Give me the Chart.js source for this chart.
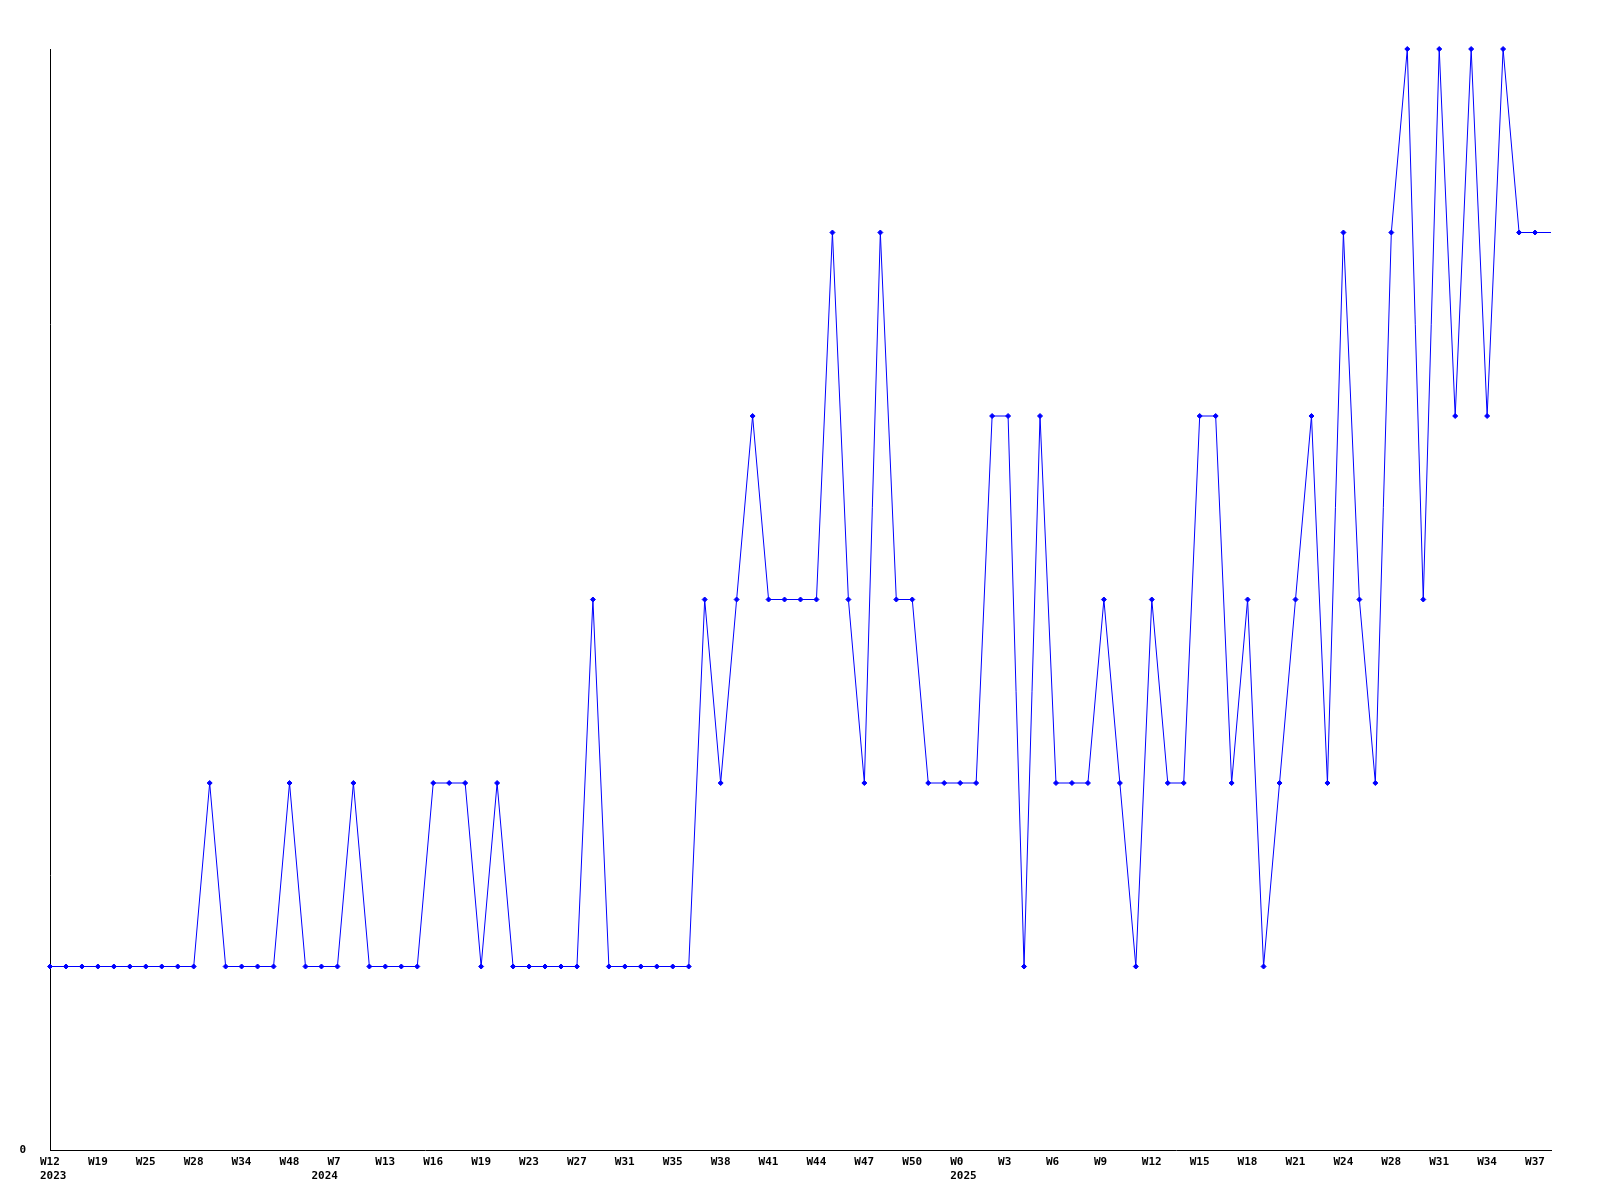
<!DOCTYPE html>
<html>
<head>
<meta charset="utf-8">
<style>
  html, body { margin: 0; padding: 0; background: #ffffff; }
  #wrap { width: 1600px; height: 1200px; }
</style>
<script src="https://cdn.jsdelivr.net/npm/chart.js@4.4.1/dist/chart.umd.min.js"></script>
</head>
<body>
<div id="wrap"><canvas id="c" width="1600" height="1200"></canvas></div>
<script>
// Categories (weeks with data)
const weeks = [
  'W12','W14','W16','W19','W21','W23','W25','W26','W27','W28',
  'W30','W32','W34','W39','W44','W48','W51','W3','W7','W9',
  'W11','W13','W14','W15','W16','W17','W18','W19','W20','W22',
  'W23','W24','W26','W27','W28','W30','W31','W32','W34','W35',
  'W36','W37','W38','W39','W40','W41','W42','W43','W44','W45',
  'W46','W47','W48','W49','W50','W51','W52','W0','W1','W2',
  'W3','W4','W5','W6','W7','W8','W9','W10','W11','W12',
  'W13','W14','W15','W16','W17','W18','W19','W20','W21','W22',
  'W23','W24','W25','W27','W28','W29','W30','W31','W32','W33',
  'W34','W35','W36','W37','W38'
];
// Year shown under the first week of each year
const yearIndex = [0, 17, 57];
const yearText = ['2023', '2024', '2025'];

// Series values
const counts = [
  1,1,1,1,1,1,1,1,1,1,
  2,1,1,1,1,2,1,1,1,2,
  1,1,1,1,2,2,2,1,2,1,
  1,1,1,1,3,1,1,1,1,1,
  1,3,2,3,4,3,3,3,3,5,
  3,2,5,3,3,2,2,2,2,4,
  4,1,4,2,2,2,3,2,1,3,
  2,2,4,4,2,3,1,2,3,4,
  2,5,3,2,5,6,3,6,4,6,
  4,6,5,5,5
];

// Y tick labels
const yTickLabels = { 0: '0' };

const FONT = { family: "'DejaVu Sans Mono', monospace", size: 11, weight: 'bold', lineHeight: 14 / 11 };

new Chart(document.getElementById('c'), {
  type: 'line',
  data: {
    labels: weeks,
    datasets: [{
      data: counts,
      borderColor: '#0000ff',
      backgroundColor: '#0000ff',
      borderWidth: 1,
      tension: 0,
      fill: false,
      pointStyle: 'rectRot',
      pointRadius: counts.map((v, i) => i === counts.length - 1 ? 0 : 2.5),
      pointBorderWidth: 1,
      pointBackgroundColor: '#0000ff',
      pointBorderColor: '#0000ff',
      clip: false
    }]
  },
  options: {
    responsive: false,
    animation: false,
    events: [],
    layout: { padding: { top: 49, right: 49, left: 0, bottom: 0 } },
    plugins: { legend: { display: false }, tooltip: { enabled: false }, title: { display: false } },
    scales: {
      x: {
        type: 'category',
        offset: false,
        grid: { display: false, drawTicks: false },
        border: { display: true, color: '#000000', width: 1 },
        ticks: {
          autoSkip: false,
          maxRotation: 0,
          minRotation: 0,
          padding: 5,
          align: 'start',
          labelOffset: -10,
          color: '#000000',
          font: FONT,
          callback: function (val, i) {
            const k = yearIndex.indexOf(i);
            const shown = i % 3 === 0;
            if (!shown && k < 0) return null;
            const w = shown ? weeks[i] : '';
            return k >= 0 ? [w, yearText[k]] : w;
          }
        },
        afterFit: function (scale) { scale.height = 50; }
      },
      y: {
        type: 'linear',
        min: 0,
        max: 6,
        grid: { display: false, drawTicks: false },
        border: { display: true, color: '#000000', width: 1 },
        ticks: {
          stepSize: 1,
          padding: 24,
          color: '#000000',
          font: FONT,
          callback: function (v) { return yTickLabels[v] !== undefined ? yTickLabels[v] : null; }
        },
        afterFit: function (scale) { scale.width = 50; }
      }
    }
  }
});
</script>
</body>
</html>
